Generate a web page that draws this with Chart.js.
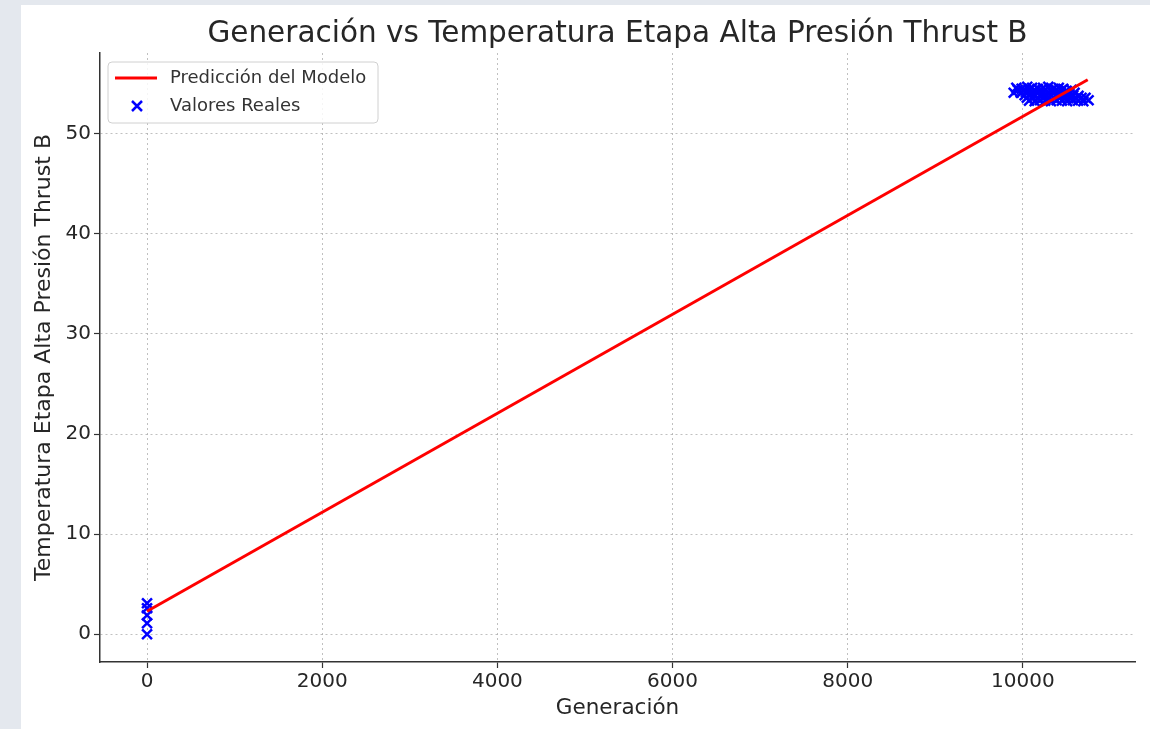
<!DOCTYPE html>
<html>
<head>
<meta charset="utf-8">
<script src="https://cdn.jsdelivr.net/npm/chart.js@4.4.1/dist/chart.umd.min.js"></script>
<style>
  html, body { margin: 0; padding: 0; width: 1150px; height: 729px; overflow: hidden; background: #e4e8ee; }
  #wrap { position: absolute; left: 21px; top: 5px; width: 1129px; height: 724px; background: #ffffff; }
  canvas { display: block; }
</style>
</head>
<body>
<div id="wrap"><canvas id="c" width="1129" height="724"></canvas></div>
<script>
// Axis ticks
const xTickValues = [0, 2000, 4000, 6000, 8000, 10000];
const yTickValues = [0, 10, 20, 30, 40, 50];

// Model prediction (straight fit line, endpoints)
const predGeneracion = [0, 10740];
const predTemperatura = [2.3, 55.4];

// Measured values: low-generation readings
const realGenLow = [0, 0, 0, 0, 0];
const realTempLow = [0, 1.1, 1.9, 2.6, 3.1];

// Measured values: high-generation cluster
const realGenHigh = [
  9925, 9985, 10050, 10105, 10170, 10230, 10290, 10345, 10410, 10460,
  9940, 10010, 10070, 10130, 10200, 10260, 10320, 10380, 10440, 10500, 10555,
  9975, 10035, 10095, 10160, 10220, 10285, 10345, 10405, 10470, 10530, 10590,
  10020, 10080, 10140, 10205, 10265, 10325, 10390, 10450, 10510, 10575, 10635,
  10045, 10110, 10175, 10240, 10300, 10360, 10425, 10490, 10550, 10610, 10670, 10715,
  10070, 10135, 10195, 10255, 10320, 10385, 10445, 10505, 10570, 10630, 10690, 10750,
  9895
];
const realTempHigh = [
  54.6, 54.5, 54.7, 54.6, 54.5, 54.6, 54.7, 54.5, 54.6, 54.5,
  54.4, 54.3, 54.4, 54.35, 54.3, 54.4, 54.3, 54.4, 54.35, 54.3, 54.4,
  54.1, 54.15, 54.05, 54.1, 54.0, 54.15, 54.1, 54.05, 54.1, 54.0, 54.1,
  53.85, 53.9, 53.8, 53.85, 53.9, 53.8, 53.85, 53.9, 53.8, 53.85, 53.8,
  53.6, 53.65, 53.55, 53.6, 53.65, 53.55, 53.6, 53.65, 53.6, 53.55, 53.6, 53.6,
  53.3, 53.25, 53.35, 53.3, 53.25, 53.35, 53.3, 53.25, 53.35, 53.3, 53.25, 53.35,
  54.1
];

const TITLE = 'Generación vs Temperatura Etapa Alta Presión Thrust B';
const X_LABEL = 'Generación';
const Y_LABEL = 'Temperatura Etapa Alta Presión Thrust B';
const LEGEND_LINE = 'Predicción del Modelo';
const LEGEND_POINTS = 'Valores Reales';

const FONT = '"DejaVu Sans", sans-serif';
const TEXT = '#262626';
const RED = '#ff0000';
const BLUE = '#0000ff';

const toPoints = (xs, ys) => xs.map((x, i) => ({ x: x, y: ys[i] }));
const realPoints = toPoints(realGenLow, realTempLow).concat(toPoints(realGenHigh, realTempHigh));

// Title, axis labels and the framed legend drawn on top of the plot
const decorations = {
  id: 'decorations',
  afterDraw(chart) {
    const ctx = chart.ctx;
    const a = chart.chartArea;
    ctx.save();
    ctx.fillStyle = TEXT;
    ctx.textAlign = 'center';
    ctx.textBaseline = 'middle';
    ctx.font = '29.5px ' + FONT;
    ctx.fillText(TITLE, (a.left + a.right) / 2, 29);
    ctx.font = '21.5px ' + FONT;
    ctx.fillText(X_LABEL, (a.left + a.right) / 2, 703);
    ctx.font = '22px ' + FONT;
    ctx.save();
    ctx.translate(23, (a.top + a.bottom) / 2);
    ctx.rotate(-Math.PI / 2);
    ctx.fillText(Y_LABEL, 0, 0);
    ctx.restore();

    // legend frame
    const bx = a.left + 8, by = a.top + 9, bw = 270, bh = 61, r = 4;
    ctx.beginPath();
    ctx.moveTo(bx + r, by);
    ctx.arcTo(bx + bw, by, bx + bw, by + bh, r);
    ctx.arcTo(bx + bw, by + bh, bx, by + bh, r);
    ctx.arcTo(bx, by + bh, bx, by, r);
    ctx.arcTo(bx, by, bx + bw, by, r);
    ctx.closePath();
    ctx.fillStyle = 'rgba(255,255,255,0.85)';
    ctx.fill();
    ctx.strokeStyle = '#d0d0d0';
    ctx.lineWidth = 1;
    ctx.stroke();

    // line entry
    ctx.strokeStyle = RED;
    ctx.lineWidth = 3;
    ctx.beginPath();
    ctx.moveTo(bx + 7, by + 16);
    ctx.lineTo(bx + 49, by + 16);
    ctx.stroke();
    // point entry (x marker)
    const mx = bx + 29, my = by + 44, m = 5;
    ctx.strokeStyle = BLUE;
    ctx.lineWidth = 2.5;
    ctx.beginPath();
    ctx.moveTo(mx - m, my - m); ctx.lineTo(mx + m, my + m);
    ctx.moveTo(mx - m, my + m); ctx.lineTo(mx + m, my - m);
    ctx.stroke();

    ctx.fillStyle = '#333333';
    ctx.textAlign = 'left';
    ctx.font = '18px ' + FONT;
    ctx.fillText(LEGEND_LINE, bx + 62, by + 16);
    ctx.fillText(LEGEND_POINTS, bx + 62, by + 44);
    ctx.restore();
  }
};

const gridStyle = {
  color: 'rgba(150,150,150,0.6)',
  lineWidth: 1,
  tickColor: '#333333',
  tickBorderDash: [],
  tickLength: 6,
  tickWidth: 1.2
};
const borderStyle = { display: true, color: '#333333', width: 1.5, dash: [2, 3] };

new Chart(document.getElementById('c'), {
  type: 'scatter',
  data: {
    datasets: [
      {
        type: 'line',
        label: LEGEND_LINE,
        data: toPoints(predGeneracion, predTemperatura),
        borderColor: RED,
        borderWidth: 3,
        pointRadius: 0,
        fill: false,
        order: 0
      },
      {
        label: LEGEND_POINTS,
        data: realPoints,
        pointStyle: 'crossRot',
        pointRadius: 7,
        borderColor: BLUE,
        backgroundColor: BLUE,
        borderWidth: 2.5,
        order: 1
      }
    ]
  },
  plugins: [decorations],
  options: {
    responsive: false,
    animation: false,
    devicePixelRatio: 1,
    layout: { padding: { left: 0, right: 15, top: 48, bottom: 0 } },
    plugins: {
      legend: { display: false },
      title: { display: false },
      tooltip: { enabled: false }
    },
    scales: {
      x: {
        type: 'linear',
        min: -537,
        max: 11280,
        afterBuildTicks: (s) => { s.ticks = xTickValues.map(v => ({ value: v })); },
        afterFit: (s) => { s.height = 67; },
        grid: gridStyle,
        border: borderStyle,
        ticks: { color: TEXT, font: { family: FONT, size: 20 }, padding: 2, maxRotation: 0, callback: (v) => String(v) }
      },
      y: {
        type: 'linear',
        min: -2.77,
        max: 58.07,
        afterBuildTicks: (s) => { s.ticks = yTickValues.map(v => ({ value: v })); },
        afterFit: (s) => { s.width = 79; },
        grid: gridStyle,
        border: borderStyle,
        ticks: { color: TEXT, font: { family: FONT, size: 20 }, padding: 3, callback: (v) => String(v) }
      }
    }
  }
});
</script>
</body>
</html>
